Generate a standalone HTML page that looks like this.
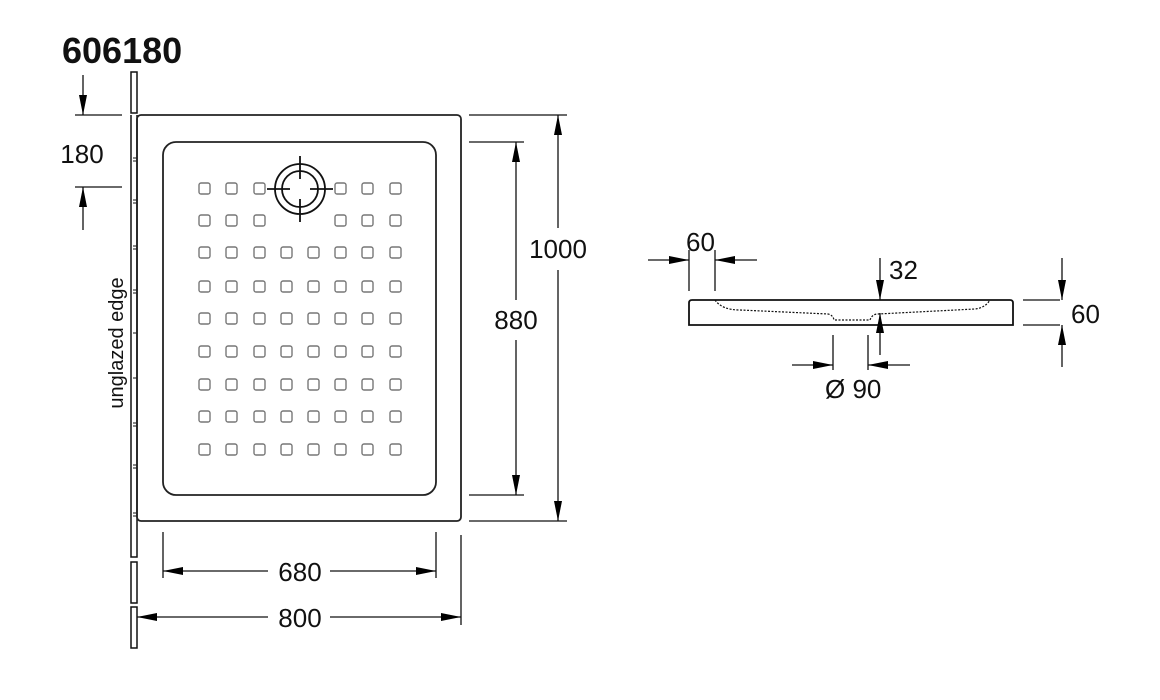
<!DOCTYPE html>
<html><head><meta charset="utf-8"><style>
html,body{margin:0;padding:0;background:#fff;}
svg{display:block;font-family:"Liberation Sans",Arial,sans-serif;}
</style></head><body>
<svg width="1160" height="700" viewBox="0 0 1160 700" xmlns="http://www.w3.org/2000/svg">
<defs>
<marker id="a" viewBox="0 0 20 8" refX="20" refY="4" markerWidth="20" markerHeight="8" markerUnits="userSpaceOnUse" orient="auto"><path d="M0,0 L20,4 L0,8 z" fill="#000"/></marker>
</defs>
<text x="62" y="63" font-size="36" font-weight="bold" fill="#111">606180</text>

<g fill="none" stroke="#111" stroke-width="1.5">
<rect x="131" y="72" width="6" height="41"/>
<path d="M131,115 V557 H137 V115"/>
<rect x="131" y="562" width="6" height="41"/>
<rect x="131" y="607" width="6" height="41"/>
</g>
<g stroke="#111" stroke-width="1">
<path d="M133,158h4M133,161h4M133,200h4M133,203h4M133,246h4M133,249h4M133,290h4M133,293h4M133,333h4M133,378h4M133,423h4M133,426h4M133,465h4M133,468h4M133,513h4M133,516h4"/>
</g>
<text transform="translate(123,343) rotate(-90)" text-anchor="middle" font-size="20" fill="#111">unglazed edge</text>

<rect x="137" y="115" width="324" height="406" rx="4" fill="none" stroke="#222" stroke-width="1.8"/>
<rect x="163" y="142" width="273" height="353" rx="13" fill="none" stroke="#222" stroke-width="1.8"/>

<g fill="none" stroke="#777" stroke-width="1.4">
<rect x="199" y="183" width="11" height="11" rx="2"/><rect x="226" y="183" width="11" height="11" rx="2"/><rect x="254" y="183" width="11" height="11" rx="2"/><rect x="335" y="183" width="11" height="11" rx="2"/><rect x="362" y="183" width="11" height="11" rx="2"/><rect x="390" y="183" width="11" height="11" rx="2"/>
<rect x="199" y="215" width="11" height="11" rx="2"/><rect x="226" y="215" width="11" height="11" rx="2"/><rect x="254" y="215" width="11" height="11" rx="2"/><rect x="335" y="215" width="11" height="11" rx="2"/><rect x="362" y="215" width="11" height="11" rx="2"/><rect x="390" y="215" width="11" height="11" rx="2"/>
</g>
<g fill="none" stroke="#777" stroke-width="1.4" id="rows">
</g>
<script>
(function(){
var g=document.getElementById('rows');
var xs=[199,226,254,281,308,335,362,390];
var ys=[247,281,313,346,379,411,444];
var ns='http://www.w3.org/2000/svg';
ys.forEach(function(y){xs.forEach(function(x){
var r=document.createElementNS(ns,'rect');
r.setAttribute('x',x);r.setAttribute('y',y);r.setAttribute('width',11);r.setAttribute('height',11);r.setAttribute('rx',2);
g.appendChild(r);});});
})();
</script>
<g fill="none" stroke="#111" stroke-width="1.8">
<circle cx="300" cy="189" r="25"/>
<circle cx="300" cy="189" r="18"/>
<path d="M267,189h23M310,189h23M300,156v23M300,199v23"/>
</g>

<g stroke="#111" stroke-width="1.3" fill="none">
<path d="M75,115h47M75,187h47"/>
<path d="M83,75V115" marker-end="url(#a)"/>
<path d="M83,230V187" marker-end="url(#a)"/>
<path d="M469,115h98M469,521h98"/>
<path d="M558,228V115" marker-end="url(#a)"/>
<path d="M558,270V521" marker-end="url(#a)"/>
<path d="M469,142h55M469,495h55"/>
<path d="M516,300V142" marker-end="url(#a)"/>
<path d="M516,340V495" marker-end="url(#a)"/>
<path d="M163,532v46M436,532v46"/>
<path d="M268,571H163" marker-end="url(#a)"/>
<path d="M330,571H436" marker-end="url(#a)"/>
<path d="M461,535v90"/>
<path d="M268,617H137" marker-end="url(#a)"/>
<path d="M330,617H461" marker-end="url(#a)"/>
</g>
<g font-size="26" fill="#111" text-anchor="middle">
<text x="82" y="163">180</text>
<text x="558" y="258">1000</text>
<text x="516" y="329">880</text>
<text x="300" y="581">680</text>
<text x="300" y="627">800</text>
</g>

<g fill="none" stroke="#111" stroke-width="1.8">
<path d="M689,325 V303 Q689,300 692,300 H1010 Q1013,300 1013,303 V325 Z"/>
</g>
<path d="M715,300 Q722,310 740,310 L828,314 Q833,315 834,320 H870 Q872,314 878,314 L975,309 Q985,308 990,300" fill="none" stroke="#111" stroke-width="1.2" stroke-dasharray="2,1.5"/>
<g stroke="#111" stroke-width="1.3" fill="none">
<path d="M689,250v41M715,250v41"/>
<path d="M648,260H689" marker-end="url(#a)"/>
<path d="M757,260H715" marker-end="url(#a)"/>
<path d="M880,258V300" marker-end="url(#a)"/>
<path d="M880,355V313" marker-end="url(#a)"/>
<path d="M1023,300h37M1023,325h37"/>
<path d="M1062,258V300" marker-end="url(#a)"/>
<path d="M1062,367V325" marker-end="url(#a)"/>
<path d="M833,335v35M868,335v35"/>
<path d="M792,365H833" marker-end="url(#a)"/>
<path d="M910,365H868" marker-end="url(#a)"/>
</g>
<g font-size="26" fill="#111">
<text x="686" y="251">60</text>
<text x="889" y="279">32</text>
<text x="1071" y="323">60</text>
<text x="825" y="398">Ø 90</text>
</g>
</svg>
</body></html>
